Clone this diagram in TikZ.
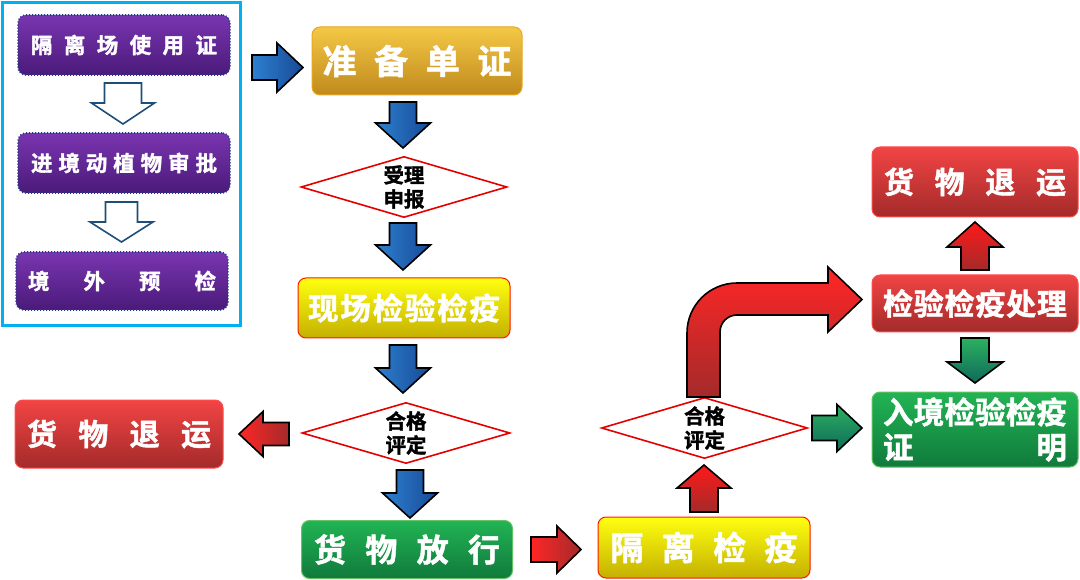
\documentclass[tikz,border=0pt]{standalone}
\usepackage{fontspec}
\setmainfont{Noto Sans CJK SC}[BoldFont={Noto Sans CJK SC Bold},BoldFeatures={FakeBold=1.5}]
\usetikzlibrary{calc}
\definecolor{cyanframe}{HTML}{00B0F0}
\definecolor{purtop}{HTML}{7A35B0}
\definecolor{purbot}{HTML}{4A1A7A}
\definecolor{purline}{HTML}{1F3C88}
\definecolor{goldtop}{HTML}{F4C846}
\definecolor{goldbot}{HTML}{C08A1C}
\definecolor{goldline}{HTML}{E8A820}
\definecolor{yeltop}{HTML}{FFFF10}
\definecolor{yelbot}{HTML}{C4B000}
\definecolor{redtop}{HTML}{F24444}
\definecolor{redbot}{HTML}{A42A2A}
\definecolor{grntop}{HTML}{22B454}
\definecolor{grnbot}{HTML}{107A3C}
\definecolor{bluea}{HTML}{2E80D0}
\definecolor{blueb}{HTML}{174A96}
\definecolor{hollow}{HTML}{1F4E79}
\definecolor{garra}{HTML}{2DB060}
\definecolor{garrb}{HTML}{0E6A5A}
\newcommand{\DArrow}[7]{\draw[#1] ({#2-#5},#3) -- ({#2+#5},#3) -- ({#2+#5},{#4-#7}) -- ({#2+#6},{#4-#7}) -- (#2,#4) -- ({#2-#6},{#4-#7}) -- ({#2-#5},{#4-#7}) -- cycle;}
\newcommand{\UArrow}[7]{\draw[#1] ({#2-#5},#3) -- ({#2+#5},#3) -- ({#2+#5},{#4+#7}) -- ({#2+#6},{#4+#7}) -- (#2,#4) -- ({#2-#6},{#4+#7}) -- ({#2-#5},{#4+#7}) -- cycle;}
\newcommand{\RArrow}[7]{\draw[#1] (#3,{#2-#5}) -- (#3,{#2+#5}) -- ({#4-#7},{#2+#5}) -- ({#4-#7},{#2+#6}) -- (#4,#2) -- ({#4-#7},{#2-#6}) -- ({#4-#7},{#2-#5}) -- cycle;}
\newcommand{\LArrow}[7]{\draw[#1] (#3,{#2-#5}) -- (#3,{#2+#5}) -- ({#4+#7},{#2+#5}) -- ({#4+#7},{#2+#6}) -- (#4,#2) -- ({#4+#7},{#2-#6}) -- ({#4+#7},{#2-#5}) -- cycle;}
\newcommand{\spr}[2]{\makebox[#1pt][s]{#2}}
\tikzset{
  box/.style={rounded corners=8pt, line width=1pt, inner sep=0pt, text=white, font=\bfseries},
  purplebox/.style={box, draw=purline, dotted, line width=1.6pt, top color=purtop, bottom color=purbot, font=\bfseries\fontsize{21.5}{24}\selectfont},
  goldbox/.style={box, draw=goldline, top color=goldtop, bottom color=goldbot, font=\bfseries\fontsize{34}{38}\selectfont},
  yelbox/.style={box, draw=red!80!orange, top color=yeltop, bottom color=yelbot, font=\bfseries\fontsize{30.5}{34}\selectfont},
  redbox/.style={box, draw=red!70!white, top color=redtop, bottom color=redbot, font=\bfseries\fontsize{30}{34}\selectfont},
  grnbox/.style={box, draw=green!60!black!60!white, top color=grntop, bottom color=grnbot, font=\bfseries\fontsize{32}{36}\selectfont},
  dia/.style={draw=none, inner sep=0pt, font=\bfseries\fontsize{20.5}{24}\selectfont, align=center, text=black},
  diaedge/.style={draw=red!90!black, line width=1.6pt, fill=white, line join=miter},
  bluearr/.style={draw=black, line width=1.6pt, left color=bluea, right color=blueb, line join=miter},
  redarr/.style={draw=black, line width=1.6pt, top color=red!90!white, bottom color=redbot, line join=miter},
  redarrh/.style={draw=black, line width=1.6pt, left color=red!85!white, right color=redbot, line join=miter},
  grnarr/.style={draw=black, line width=1.6pt, top color=garra, bottom color=garrb, line join=miter},
  hollowarr/.style={draw=hollow, line width=1.6pt, fill=white, line join=miter},
}
\begin{document}
\begin{tikzpicture}[x=1pt,y=-1pt]
\useasboundingbox (0,0) rectangle (1080,580);
\fill[white] (0,0) rectangle (1080,580);
% left frame
\draw[cyanframe, line width=3pt] (2.5,2.5) rectangle (240,326);
\node[purplebox, minimum width=212pt, minimum height=60pt] (p1) at (124,45) {\spr{186}{隔\hfill 离\hfill 场\hfill 使\hfill 用\hfill 证}};
\node[purplebox, minimum width=212pt, minimum height=60pt] (p2) at (124,163) {\spr{186}{进\hfill 境\hfill 动\hfill 植\hfill 物\hfill 审\hfill 批}};
\node[purplebox, minimum width=212pt, minimum height=58pt] (p3) at (122,281) {\spr{188}{境\hfill 外\hfill 预\hfill 检}};
\DArrow{hollowarr}{123}{83}{124}{18.5}{31.5}{21}
\DArrow{hollowarr}{121.5}{202}{242}{16}{31.5}{20}
% main column
\node[goldbox, minimum width=210pt, minimum height=68pt] (zb) at (417,61) {\spr{189}{准\hfill 备\hfill 单\hfill 证}};
\RArrow{bluearr}{67.5}{252}{303}{12.5}{24.5}{26}
\DArrow{bluearr}{403}{102}{148}{13.5}{27.5}{25}
\node[dia, minimum width=205pt, minimum height=60pt] (d1) at (404,187) {};
\draw[diaedge] (d1.west) -- (d1.north) -- (d1.east) -- (d1.south) -- cycle;
\node[dia] (t1) at (d1) {受理\\申报};
\DArrow{bluearr}{403}{223}{270}{13.5}{27.5}{25}
\node[yelbox, minimum width=212pt, minimum height=60pt] (xc) at (404,308) {\spr{192}{现\hfill 场\hfill 检\hfill 验\hfill 检\hfill 疫}};
\DArrow{bluearr}{403}{345}{393}{13.5}{27.5}{25}
\node[dia, minimum width=207pt, minimum height=60pt] (d2) at (406,433) {};
\draw[diaedge] (d2.west) -- (d2.north) -- (d2.east) -- (d2.south) -- cycle;
\node[dia] (t2) at (d2) {合格\\评定};
\LArrow{redarrh}{434}{289}{239}{11.5}{22.5}{24}
\node[redbox, minimum width=208pt, minimum height=68pt] (ty1) at (119,434) {\spr{184}{货\hfill 物\hfill 退\hfill 运}};
\DArrow{bluearr}{410}{470}{518}{13.5}{27.5}{25}
\node[grnbox, minimum width=211pt, minimum height=58pt] (fx) at (407,549.5) {\spr{186}{货\hfill 物\hfill 放\hfill 行}};
\RArrow{redarrh}{549.5}{531}{581}{12.5}{23.5}{24}
\node[yelbox, minimum width=212pt, minimum height=61pt, font=\bfseries\fontsize{33}{36}\selectfont] (gl) at (704,547.5) {\spr{187}{隔\hfill 离\hfill 检\hfill 疫}};
\UArrow{redarr}{704}{512}{465}{14}{27}{23}
\node[dia, minimum width=205pt, minimum height=60pt] (d3) at (704.5,428) {};
\draw[diaedge] (d3.west) -- (d3.north) -- (d3.east) -- (d3.south) -- cycle;
\node[dia] (t3) at (d3) {合格\\评定};
% bent arrow
\draw[draw=black, line width=1.6pt, top color=red!85!white, bottom color=redbot, line join=miter]
  (687,397) -- (687,333) .. controls (687,305.4) and (709.4,283) .. (737,283) -- (828,283) -- (828,267) -- (862,299.5) -- (828,332) -- (828,315)
  -- (737,315) .. controls (727.6,315) and (720,322.6) .. (720,332) -- (720,397) -- cycle;
\RArrow{grnarr}{428}{812}{862}{12.5}{23.5}{25}
% right column
\node[redbox, minimum width=206pt, minimum height=70pt] (ty2) at (975,182) {\spr{182}{货\hfill 物\hfill 退\hfill 运}};
\UArrow{redarr}{975}{270}{222}{14}{28}{25}
\node[redbox, minimum width=206pt, minimum height=57pt] (cl) at (975,303.5) {\spr{184}{检\hfill 验\hfill 检\hfill 疫\hfill 处\hfill 理}};
\DArrow{grnarr}{975}{338}{383}{14}{28}{21}
\node[grnbox, minimum width=206pt, minimum height=75pt, align=left, font=\bfseries\fontsize{30.5}{35}\selectfont] (zm) at (975,429.5) {\spr{184}{入\hfill 境\hfill 检\hfill 验\hfill 检\hfill 疫}\\\spr{184}{证\hfill 明}};
\end{tikzpicture}
\end{document}
